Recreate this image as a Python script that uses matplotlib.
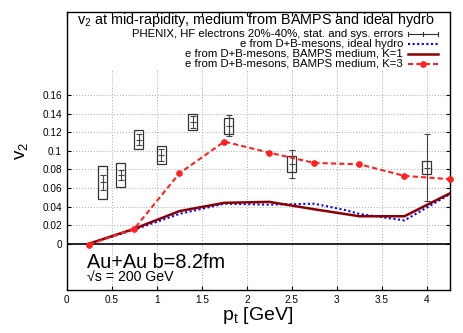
import matplotlib
matplotlib.use("Agg")
import matplotlib.pyplot as plt
from matplotlib.patches import Rectangle
import numpy as np

plt.rcParams['font.family'] = ['Liberation Sans', 'DejaVu Sans']

# PHENIX HF electrons 20%-40%
phx_pt = [0.40, 0.60, 0.80, 1.05, 1.40, 1.80, 2.50, 4.00]
phx_v2 = [0.066, 0.074, 0.112, 0.0955, 0.131, 0.127, 0.0855, 0.082]
phx_stat = [0.008, 0.0055, 0.006, 0.006, 0.0065, 0.0115, 0.015, 0.036]
phx_sys = [0.018, 0.013, 0.010, 0.010, 0.0085, 0.0085, 0.0085, 0.007]

# model curves
model_pt = [0.25, 0.75, 1.25, 1.75, 2.25, 2.75, 3.25, 3.75, 4.25]
hydro_pt = [0.25, 0.75, 1.25, 1.75, 2.25, 2.75, 3.1, 3.25, 3.75, 4.25]
hydro_v2 = [0.0, 0.015, 0.032, 0.043, 0.042, 0.043, 0.036, 0.032, 0.025, 0.053]
k1_v2 = [0.0, 0.016, 0.035, 0.044, 0.045, 0.037, 0.0295, 0.0295, 0.054]
k3_v2 = [-0.001, 0.016, 0.0757, 0.110, 0.098, 0.087, 0.0855, 0.073, 0.0695]

xticks = [0, 0.5, 1, 1.5, 2, 2.5, 3, 3.5, 4]
xticklabels = ['0', '0.5', '1', '1.5', '2', '2.5', '3', '3.5', '4']
yticks = [0, 0.02, 0.04, 0.06, 0.08, 0.1, 0.12, 0.14, 0.16]
yticklabels = ['0', '0.02', '0.04', '0.06', '0.08', '0.1', '0.12', '0.14', '0.16']

legend_labels = ["PHENIX, HF electrons 20%-40%, stat. and sys. errors",
                 "e from D+B-mesons, ideal hydro",
                 "e from D+B-mesons, BAMPS medium, K=1",
                 "e from D+B-mesons, BAMPS medium, K=3"]

W, H = 463, 333
fig = plt.figure(figsize=(W / 100, H / 100), dpi=100)
ax = fig.add_axes([66.7 / W, 1 - 290 / H, (449.5 - 66.7) / W, (290 - 11.7) / H])
ax.set_xlim(0, 4.25)
ax.set_ylim(-0.05, 0.25)

# grid
for y in yticks[1:]:
    ax.axhline(y, color='#a8a8a8', lw=0.7, ls=(0, (1, 2)), zorder=0.5)
for x in xticks[1:]:
    ax.axvline(x, ymin=0, ymax=0.79, color='#a8a8a8', lw=0.7, ls=(0, (1, 2)), zorder=0.5)
ax.axhline(0, color='black', lw=1.2, zorder=1)

# PHENIX data
bw = 0.1
for x, y, s in zip(phx_pt, phx_v2, phx_sys):
    ax.add_patch(Rectangle((x - bw / 2, y - s), bw, 2 * s, fill=False,
                           edgecolor='#333333', lw=0.9, zorder=3))
ax.errorbar(phx_pt, phx_v2, yerr=phx_stat, fmt='_', color='#444444', ms=4,
            mew=0.8, elinewidth=0.8, capsize=2, capthick=0.8, zorder=4)

# models
ax.plot(hydro_pt, hydro_v2, color='#0000ff', lw=1.5, ls=(0, (1, 1.2)), zorder=5)
ax.plot(model_pt, k1_v2, color='#8b0000', lw=1.8, zorder=5)
ax.plot(model_pt, k3_v2, color='#ff2020', lw=1.5, ls=(0, (2.5, 1.5)),
        marker='o', ms=3.8, zorder=6, clip_on=False)

ax.set_xticks(xticks)
ax.set_xticklabels(xticklabels)
ax.set_yticks(yticks)
ax.set_yticklabels(yticklabels)
ax.tick_params(direction='in', length=3, width=0.8, labelsize=7.2, top=True, right=True,
               pad=3.5)
for sp in ax.spines.values():
    sp.set_linewidth(1.0)

ax.set_xlabel('p$_\\mathregular{t}$ [GeV]', fontsize=14, labelpad=0)
ax.set_ylabel('v$_\\mathregular{2}$', fontsize=13.5, labelpad=8)

# title inside frame
ax.text(0.494, 0.956, 'v$_\\mathregular{2}$ at mid-rapidity, medium from BAMPS and ideal hydro',
        transform=ax.transAxes, ha='center', va='baseline', fontsize=10.4)

# legend (manual)
def fx(px):
    return (px - 66.7) / 382.8

def fy(py):
    return (290 - py) / 278.3

rows = [34, 44, 54, 64]
tx = fx(403)
x0, x1 = fx(408), fx(438)
for r, lab in zip(rows, legend_labels):
    ax.text(tx, fy(r), lab, transform=ax.transAxes, ha='right', va='center', fontsize=8.2)
tr = ax.transAxes
yy = fy(rows[0])
ax.plot([x0, x1], [yy, yy], transform=tr, color='#333333', lw=0.8, clip_on=False)
for xx in (x0, x1, (x0 + x1) / 2):
    ax.plot([xx, xx], [yy - 0.008, yy + 0.008], transform=tr, color='#333333', lw=0.8)
yy = fy(rows[1])
ax.plot([x0, x1], [yy, yy], transform=tr, color='#0000ff', lw=1.5, ls=(0, (1, 1.2)))
yy = fy(rows[2])
ax.plot([x0, x1], [yy, yy], transform=tr, color='#8b0000', lw=1.8)
yy = fy(rows[3])
ax.plot([x0, x1], [yy, yy], transform=tr, color='#ff2020', lw=1.5, ls=(0, (2.5, 1.5)))
ax.plot([(x0 + x1) / 2], [yy], transform=tr, color='#ff2020', marker='o', ms=3.8)

ax.text(fx(86.7), fy(268.5), 'Au+Au b=8.2fm', transform=ax.transAxes, ha='left',
        va='baseline', fontsize=14.3)
ax.text(fx(86.7), fy(282), '\u221as = 200 GeV', transform=ax.transAxes, ha='left',
        va='baseline', fontsize=10.2)

fig.savefig('out.png', dpi=100)
